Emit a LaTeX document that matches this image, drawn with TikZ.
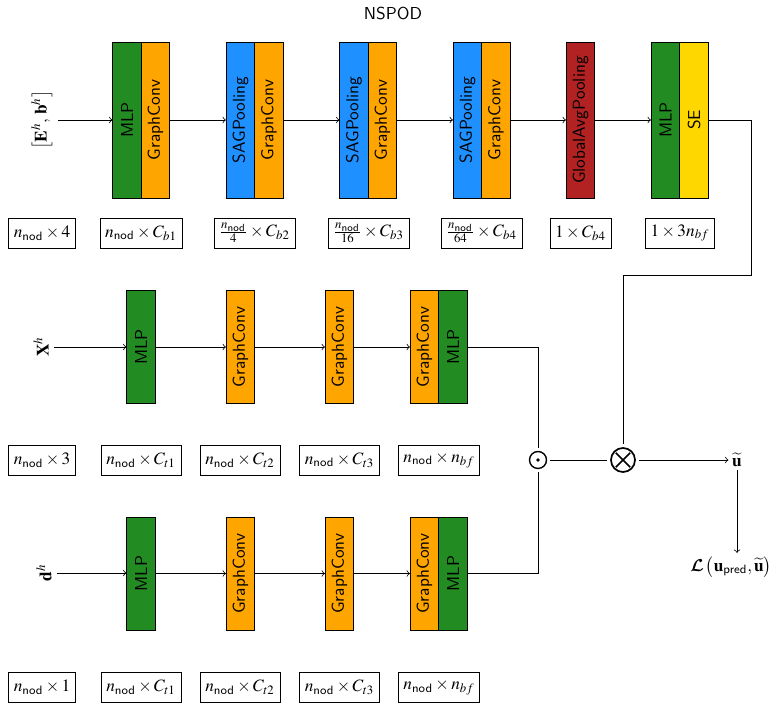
\documentclass[tikz,border=0pt]{standalone}
\usepackage{graphicx}
\usepackage{amsmath}
\usepackage{mathptmx}
\usetikzlibrary{calc}
\DeclareMathAlphabet{\mathcmcal}{OMS}{cmsy}{b}{n}
\definecolor{mlpgreen}{RGB}{34,139,34}
\definecolor{gcorange}{RGB}{255,165,0}
\definecolor{sagblue}{RGB}{30,144,255}
\definecolor{gapred}{RGB}{178,34,34}
\definecolor{seyellow}{RGB}{255,215,0}
\def\pxu{0.578pt}
\tikzset{
  topblk/.style={draw, minimum width=28.5*\pxu, minimum height=156*\pxu, inner sep=0pt, font=\sffamily},
  rowblk/.style={draw, minimum width=28.5*\pxu, minimum height=113*\pxu, inner sep=0pt, font=\sffamily},
  dimbox/.style={draw, fill=white, minimum height=30*\pxu, inner ysep=2.5pt, inner xsep=3pt},
  inlabel/.style={inner sep=2pt},
  conn/.style={line width=0.45pt},
  arr/.style={conn, ->},
}
\begin{document}
\begin{tikzpicture}[x=0.578pt, y=-0.578pt]
\useasboundingbox (0,0) rectangle (783,709);

\node[font=\sffamily] (title) at (393,14) {NSPOD};

% ---------- top row ----------
\node[inlabel, inner sep=3pt] (inE) at (42,120) {\rotatebox{90}{$\bigl[\mathbf{E}^h,\, \mathbf{b}^h\bigr]$}};
\node[topblk, fill=mlpgreen] (t1a) at (127,120) {\rotatebox{90}{MLP}};
\node[topblk, fill=gcorange] (t1b) at (155.5,120) {\rotatebox{90}{GraphConv}};
\node[topblk, fill=sagblue] (t2a) at (240.5,120) {\rotatebox{90}{SAGPooling}};
\node[topblk, fill=gcorange] (t2b) at (269,120) {\rotatebox{90}{GraphConv}};
\node[topblk, fill=sagblue] (t3a) at (354,120) {\rotatebox{90}{SAGPooling}};
\node[topblk, fill=gcorange] (t3b) at (382.5,120) {\rotatebox{90}{GraphConv}};
\node[topblk, fill=sagblue] (t4a) at (467.5,120) {\rotatebox{90}{SAGPooling}};
\node[topblk, fill=gcorange] (t4b) at (496,120) {\rotatebox{90}{GraphConv}};
\node[topblk, fill=gapred] (t5) at (580.5,120) {\rotatebox{90}{GlobalAvgPooling}};
\node[topblk, fill=mlpgreen] (t6a) at (665.5,120) {\rotatebox{90}{MLP}};
\node[topblk, fill=seyellow] (t6b) at (694,120) {\rotatebox{90}{SE}};

\draw[arr] (inE) -- (t1a);
\draw[arr] (t1b) -- (t2a);
\draw[arr] (t2b) -- (t3a);
\draw[arr] (t3b) -- (t4a);
\draw[arr] (t4b) -- (t5);
\draw[arr] (t5) -- (t6a);

\node[dimbox] (td0) at (42,233) {$n_{\mathsf{nod}}\times 4$};
\node[dimbox] (td1) at (141,233) {$n_{\mathsf{nod}}\times C_{b1}$};
\node[dimbox] (td2) at (254.5,233) {$\frac{n_{\mathsf{nod}}}{4}\times C_{b2}$};
\node[dimbox] (td3) at (368.5,233) {$\frac{n_{\mathsf{nod}}}{16}\times C_{b3}$};
\node[dimbox] (td4) at (481.5,233) {$\frac{n_{\mathsf{nod}}}{64}\times C_{b4}$};
\node[dimbox] (td5) at (580.5,233) {$1\times C_{b4}$};
\node[dimbox] (td6) at (680,233) {$1\times 3n_{bf}$};

% ---------- middle row ----------
\node[inlabel, inner sep=3pt] (inX) at (41,347) {\rotatebox{90}{$\mathbf{X}^h$}};
\node[rowblk, fill=mlpgreen] (m1) at (141,347) {\rotatebox{90}{MLP}};
\node[rowblk, fill=gcorange] (m2) at (240.5,347) {\rotatebox{90}{GraphConv}};
\node[rowblk, fill=gcorange] (m3) at (339.5,347) {\rotatebox{90}{GraphConv}};
\node[rowblk, fill=gcorange] (m4a) at (424.5,347) {\rotatebox{90}{GraphConv}};
\node[rowblk, fill=mlpgreen] (m4b) at (453,347) {\rotatebox{90}{MLP}};

\draw[arr] (inX) -- (m1);
\draw[arr] (m1) -- (m2);
\draw[arr] (m2) -- (m3);
\draw[arr] (m3) -- (m4a);

\node[dimbox] (md0) at (42,460) {$n_{\mathsf{nod}}\times 3$};
\node[dimbox] (md1) at (141,460) {$n_{\mathsf{nod}}\times C_{t1}$};
\node[dimbox] (md2) at (240,460) {$n_{\mathsf{nod}}\times C_{t2}$};
\node[dimbox] (md3) at (339.5,460) {$n_{\mathsf{nod}}\times C_{t3}$};
\node[dimbox] (md4) at (439,460) {$n_{\mathsf{nod}}\times n_{bf}$};

% ---------- bottom row ----------
\node[inlabel, inner sep=3pt] (ind) at (44,573) {\rotatebox{90}{$\mathbf{d}^h$}};
\node[rowblk, fill=mlpgreen] (b1) at (141,573.5) {\rotatebox{90}{MLP}};
\node[rowblk, fill=gcorange] (b2) at (240.5,573.5) {\rotatebox{90}{GraphConv}};
\node[rowblk, fill=gcorange] (b3) at (339.5,573.5) {\rotatebox{90}{GraphConv}};
\node[rowblk, fill=gcorange] (b4a) at (424.5,573.5) {\rotatebox{90}{GraphConv}};
\node[rowblk, fill=mlpgreen] (b4b) at (453,573.5) {\rotatebox{90}{MLP}};

\draw[arr] (ind) -- (ind -| b1.west);
\draw[arr] (b1) -- (b2);
\draw[arr] (b2) -- (b3);
\draw[arr] (b3) -- (b4a);

\node[dimbox] (bd0) at (42,687.5) {$n_{\mathsf{nod}}\times 1$};
\node[dimbox] (bd1) at (141,687.5) {$n_{\mathsf{nod}}\times C_{t1}$};
\node[dimbox] (bd2) at (240,687.5) {$n_{\mathsf{nod}}\times C_{t2}$};
\node[dimbox] (bd3) at (339.5,687.5) {$n_{\mathsf{nod}}\times C_{t3}$};
\node[dimbox] (bd4) at (439,687.5) {$n_{\mathsf{nod}}\times n_{bf}$};

% ---------- combination ----------
\node[circle, draw, line width=0.8pt, minimum size=17*\pxu, inner sep=0pt, outer sep=2pt] (odot) at (538,460) {};
\fill (odot.center) circle (1.1pt);
\node[circle, draw, line width=1pt, minimum size=24*\pxu, inner sep=0pt, outer sep=2.5pt] (otimes) at (623,460) {};
\draw[line width=1pt] (otimes.north east) ++(-2.5pt,-2.5pt) -- ($(otimes.south west)+(2.5pt,2.5pt)$);
\draw[line width=1pt] (otimes.north west) ++(2.5pt,-2.5pt) -- ($(otimes.south east)+(-2.5pt,2.5pt)$);

\node[inner sep=2pt] (u) at (737,460) {$\widetilde{\mathbf{u}}$};
\node[inner sep=2pt] (L) at (731,567) {$\mathcmcal{L}\,\bigl(\mathbf{u}_{\mathsf{pred}}, \widetilde{\mathbf{u}}\bigr)$};

\coordinate (sebend) at (751,275);
\draw[conn] (t6b.east) -| (sebend) -| (otimes.north);
\draw[conn] (m4b.east) -| (odot.north);
\draw[conn] (b4b.east) -| (odot.south);
\draw[conn] (odot) -- (otimes);
\draw[arr] (otimes) -- (u);
\draw[arr] (u) -- (u |- L.north);
\end{tikzpicture}
\end{document}
